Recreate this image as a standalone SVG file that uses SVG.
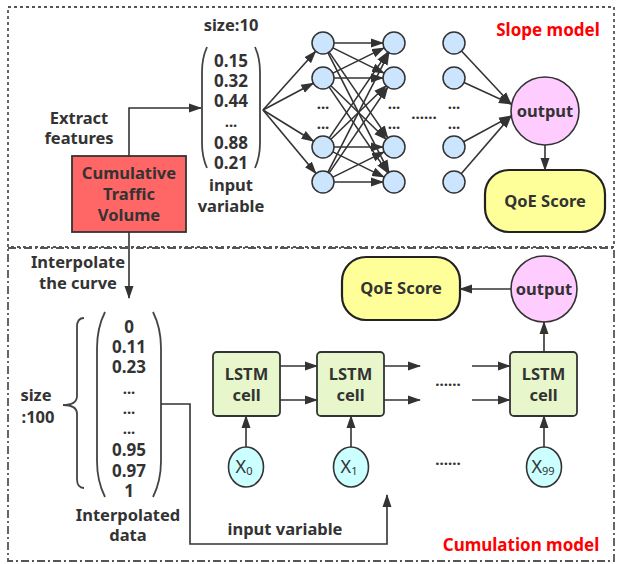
<svg xmlns="http://www.w3.org/2000/svg" width="617" height="564" viewBox="0 0 617 564">
  <defs>
    <marker id="arr" markerWidth="13" markerHeight="10" refX="12" refY="5" orient="auto" markerUnits="userSpaceOnUse">
      <path d="M0,0.5 L13,5 L0,9.5 z" fill="#333"/>
    </marker>
    <style>
      text { font-family: "Noto Sans", "Open Sans", "DejaVu Sans", sans-serif; font-weight: bold; fill: #333; text-anchor: middle; }
      .lbl { font-size: 16.5px; }
      .num { font-size: 17px; }
      .red { fill: #ff0000; font-size: 17px; }
      .dots { font-size: 15px; }
      .wire { fill: none; stroke: #333; stroke-width: 1.6; }
      .arrow { fill: none; stroke: #333; stroke-width: 1.6; marker-end: url(#arr); }
      .neuron { fill: #cce5ff; stroke: #333; stroke-width: 1.5; }
      .lstm { fill: #e8f7cb; stroke: #333; stroke-width: 1.8; }
      .xin { fill: #ccffff; stroke: #333; stroke-width: 1.6; }
      .out { fill: #ffccff; stroke: #333; stroke-width: 1.6; }
      .qoe { fill: #ffff99; stroke: #222; stroke-width: 2.2; }
      .paren { fill: none; stroke: #444; stroke-width: 1.8; }
      .xlab { font-weight: normal; font-size: 18px; }
    </style>
  </defs>

  <!-- panel frames -->
  <g id="frames">
    <rect x="8" y="7" width="606" height="240" fill="none" stroke="#555" stroke-width="1.8" stroke-dasharray="3 3"/>
    <rect x="8" y="248" width="606" height="313" fill="none" stroke="#555" stroke-width="1.8" stroke-dasharray="8 3 2 3"/>
  </g>

  <!-- ===== Slope model panel ===== -->
  <text class="red" x="548" y="36">Slope model</text>

  <g id="traffic">
    <rect x="72" y="156" width="114" height="76" fill="#ff6666" stroke="#333" stroke-width="1.8"/>
    <text class="lbl" x="129" y="179">Cumulative</text>
    <text class="lbl" x="129" y="200">Traffic</text>
    <text class="lbl" x="129" y="221">Volume</text>
  </g>

  <text class="lbl" x="79" y="124">Extract</text>
  <text class="lbl" x="79" y="144">features</text>

  <g id="input-vector">
    <text class="lbl" x="231" y="31">size:10</text>
    <path class="paren" d="M207,47 Q202,58 202,72 L202,143 Q202,157 207,168"/>
    <path class="paren" d="M255,47 Q260,58 260,72 L260,143 Q260,157 255,168"/>
    <text class="num" x="231" y="67">0.15</text>
    <text class="num" x="231" y="87">0.32</text>
    <text class="num" x="231" y="107">0.44</text>
    <text class="dots" x="231" y="127">...</text>
    <text class="num" x="231" y="149">0.88</text>
    <text class="num" x="231" y="169">0.21</text>
    <text class="lbl" x="231" y="191">input</text>
    <text class="lbl" x="231" y="212">variable</text>
  </g>

  <!-- neurons -->
  <g id="layer1">
    <circle class="neuron" cx="323" cy="43" r="11"/>
    <circle class="neuron" cx="323" cy="78" r="11"/>
    <circle class="neuron" cx="323" cy="147" r="11"/>
    <circle class="neuron" cx="323" cy="182" r="11"/>
    <text class="dots" x="323" y="109">...</text>
    <text class="dots" x="323" y="129">...</text>
  </g>
  <g id="layer2">
    <circle class="neuron" cx="394" cy="43" r="11"/>
    <circle class="neuron" cx="394" cy="78" r="11"/>
    <circle class="neuron" cx="394" cy="147" r="11"/>
    <circle class="neuron" cx="394" cy="182" r="11"/>
    <text class="dots" x="394" y="109">...</text>
    <text class="dots" x="394" y="129">...</text>
  </g>
  <text class="dots" x="424" y="119">......</text>
  <g id="layerN">
    <circle class="neuron" cx="454" cy="43" r="11"/>
    <circle class="neuron" cx="454" cy="78" r="11"/>
    <circle class="neuron" cx="454" cy="147" r="11"/>
    <circle class="neuron" cx="454" cy="182" r="11"/>
    <text class="dots" x="454" y="109">...</text>
    <text class="dots" x="454" y="129">...</text>
  </g>

  <g id="slope-output">
    <circle class="out" cx="545" cy="111" r="34"/>
    <text class="lbl" x="545" y="117">output</text>
  </g>
  <g id="slope-qoe">
    <rect class="qoe" x="485" y="170" width="120" height="62" rx="24"/>
    <text class="lbl" x="545" y="207">QoE Score</text>
  </g>

  <!-- ===== Cumulation model panel ===== -->
  <text class="red" x="521" y="551">Cumulation model</text>

  <text class="lbl" x="78" y="268">Interpolate</text>
  <text class="lbl" x="78" y="289">the curve</text>

  <g id="interp-vector">
    <path class="paren" d="M84,318 Q77,318 77,327 L77,396 Q77,405 63,405 Q77,405 77,414 L77,479 Q77,488 84,488"/>
    <text class="lbl" x="36" y="401">size</text>
    <text class="lbl" x="38" y="423">:100</text>
    <path class="paren" d="M105,312 Q97,328 97,348 L97,461 Q97,481 105,497"/>
    <path class="paren" d="M153,312 Q161,328 161,348 L161,461 Q161,481 153,497"/>
    <text class="num" x="129" y="333">0</text>
    <text class="num" x="129" y="353">0.11</text>
    <text class="num" x="129" y="373">0.23</text>
    <text class="dots" x="129" y="394">...</text>
    <text class="dots" x="129" y="414">...</text>
    <text class="dots" x="129" y="434">...</text>
    <text class="num" x="129" y="456">0.95</text>
    <text class="num" x="129" y="477">0.97</text>
    <text class="num" x="129" y="497">1</text>
    <text class="lbl" x="128" y="521">Interpolated</text>
    <text class="lbl" x="128" y="541">data</text>
  </g>

  <text class="lbl" x="285" y="535">input variable</text>

  <g id="lstm0">
    <rect class="lstm" x="213" y="352" width="67" height="64" rx="4"/>
    <text class="lbl" x="246.5" y="380">LSTM</text>
    <text class="lbl" x="246.5" y="401">cell</text>
  </g>
  <g id="lstm1">
    <rect class="lstm" x="317" y="352" width="67" height="64" rx="4"/>
    <text class="lbl" x="350.5" y="380">LSTM</text>
    <text class="lbl" x="350.5" y="401">cell</text>
  </g>
  <g id="lstm99">
    <rect class="lstm" x="510" y="352" width="67" height="64" rx="4"/>
    <text class="lbl" x="543.5" y="380">LSTM</text>
    <text class="lbl" x="543.5" y="401">cell</text>
  </g>
  <text class="dots" x="448" y="386">......</text>
  <text class="dots" x="448" y="465">......</text>

  <g id="x0">
    <ellipse class="xin" cx="246" cy="467" rx="17.5" ry="20"/>
    <text class="xlab" x="244" y="473">X<tspan font-size="11" dy="2">0</tspan></text>
  </g>
  <g id="x1">
    <ellipse class="xin" cx="351" cy="467" rx="17.5" ry="20"/>
    <text class="xlab" x="349" y="473">X<tspan font-size="11" dy="2">1</tspan></text>
  </g>
  <g id="x99">
    <ellipse class="xin" cx="544" cy="467" rx="17.5" ry="20"/>
    <text class="xlab" x="543" y="473">X<tspan font-size="11" dy="2">99</tspan></text>
  </g>

  <g id="cum-output">
    <circle class="out" cx="544" cy="289" r="33"/>
    <text class="lbl" x="544" y="295">output</text>
  </g>
  <g id="cum-qoe">
    <rect class="qoe" x="342" y="257" width="118" height="63" rx="24"/>
    <text class="lbl" x="401" y="294">QoE Score</text>
  </g>

  <!-- connectors -->
  <g id="connectors">
    <path class="arrow" d="M129,156 L129,108 L201,108"/>
    <path class="arrow" d="M129,232 L129,298"/>

    <!-- fan into first layer -->
    <line class="arrow" x1="263" y1="110" x2="315.7" y2="51.2"/>
    <line class="arrow" x1="263" y1="110" x2="313.3" y2="83.2"/>
    <line class="arrow" x1="263" y1="110" x2="313.6" y2="141.2"/>
    <line class="arrow" x1="263" y1="110" x2="316" y2="173.6"/>

    <!-- fully connected layer1 -> layer2 -->
    <line class="arrow" x1="334" y1="43" x2="383" y2="43"/>
    <line class="arrow" x1="332.9" y1="47.9" x2="384.1" y2="73.1"/>
    <line class="arrow" x1="329.2" y1="52.1" x2="387.8" y2="137.9"/>
    <line class="arrow" x1="328" y1="52.8" x2="389" y2="172.2"/>
    <line class="arrow" x1="332.9" y1="73.1" x2="384.1" y2="47.9"/>
    <line class="arrow" x1="334" y1="78" x2="383" y2="78"/>
    <line class="arrow" x1="330.9" y1="85.7" x2="386.1" y2="139.3"/>
    <line class="arrow" x1="329.2" y1="87.1" x2="387.8" y2="172.9"/>
    <line class="arrow" x1="329.2" y1="137.9" x2="387.8" y2="52.1"/>
    <line class="arrow" x1="330.9" y1="139.3" x2="386.1" y2="85.7"/>
    <line class="arrow" x1="334" y1="147" x2="383" y2="147"/>
    <line class="arrow" x1="332.9" y1="151.9" x2="384.1" y2="177.1"/>
    <line class="arrow" x1="328" y1="172.2" x2="389" y2="52.8"/>
    <line class="arrow" x1="329.2" y1="172.9" x2="387.8" y2="87.1"/>
    <line class="arrow" x1="332.9" y1="177.1" x2="384.1" y2="151.9"/>
    <line class="arrow" x1="334" y1="182" x2="383" y2="182"/>

    <!-- last layer -> output -->
    <line class="arrow" x1="461.5" y1="51" x2="511" y2="104"/>
    <line class="arrow" x1="464" y1="82.6" x2="511" y2="104"/>
    <line class="arrow" x1="463.7" y1="141.7" x2="511" y2="116"/>
    <line class="arrow" x1="461.2" y1="173.7" x2="511" y2="116"/>
    <line class="arrow" x1="545" y1="145" x2="545" y2="170"/>

    <!-- cumulation model -->
    <path class="arrow" d="M161,404 L190,404 L190,544 L387,544 L387,495"/>
    <line class="arrow" x1="280" y1="366" x2="317" y2="366"/>
    <line class="arrow" x1="280" y1="400" x2="317" y2="400"/>
    <line class="arrow" x1="384" y1="366" x2="420" y2="366"/>
    <line class="arrow" x1="384" y1="400" x2="420" y2="400"/>
    <line class="arrow" x1="472" y1="366" x2="510" y2="366"/>
    <line class="arrow" x1="472" y1="400" x2="510" y2="400"/>
    <line class="arrow" x1="246" y1="447" x2="246" y2="416"/>
    <line class="arrow" x1="351" y1="447" x2="351" y2="416"/>
    <line class="arrow" x1="544" y1="447" x2="544" y2="416"/>
    <line class="arrow" x1="544" y1="352" x2="544" y2="322"/>
    <line class="arrow" x1="511" y1="289" x2="460" y2="289"/>
  </g>
</svg>
